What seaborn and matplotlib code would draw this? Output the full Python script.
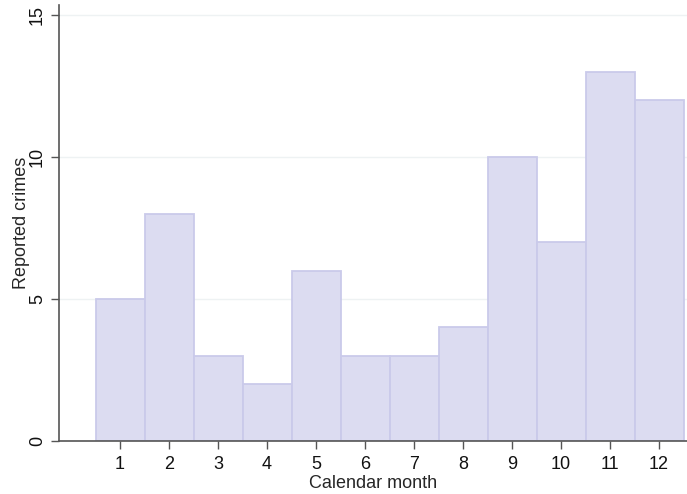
import pandas as pd
import seaborn as sns
import matplotlib.pyplot as plt

# Reported crimes by calendar month
months = [1, 2, 3, 4, 5, 6, 7, 8, 9, 10, 11, 12]
crimes = [5, 8, 3, 2, 6, 3, 3, 4, 10, 7, 13, 12]

df = pd.DataFrame({"month": months, "crimes": crimes})

sns.set_style("white")
plt.rcParams["font.family"] = ["Liberation Sans", "DejaVu Sans"]

fig = plt.figure(figsize=(6.87, 4.94), dpi=100)
ax = fig.add_axes([0.086, 0.107, 0.914, 0.883])

sns.barplot(data=df, x="month", y="crimes", order=months, color="#dcdcf1",
            saturation=1, width=1.0, edgecolor="#cacaea", linewidth=1.3, ax=ax)

ax.set_xlim(-1.245, 11.57)
ax.set_ylim(0, 15.35)
ax.set_yticks([0, 5, 10, 15])
ax.yaxis.grid(True, color="#eef2f3", linewidth=1)
ax.set_axisbelow(True)

for s in ["top", "right"]:
    ax.spines[s].set_visible(False)
for s in ["left", "bottom"]:
    ax.spines[s].set_color("#555555")
    ax.spines[s].set_linewidth(1.2)

ax.tick_params(axis="both", which="both", length=6, width=1, color="#555555",
               labelsize=13, labelcolor="#111111", bottom=True, left=True)
ax.tick_params(axis="x", pad=5)
plt.setp(ax.get_yticklabels(), rotation=90, va="center")

ax.set_xlabel("Calendar month", fontsize=13, labelpad=1)
ax.set_ylabel("Reported crimes", fontsize=13, labelpad=-1)

plt.savefig("out.png", dpi=100)
